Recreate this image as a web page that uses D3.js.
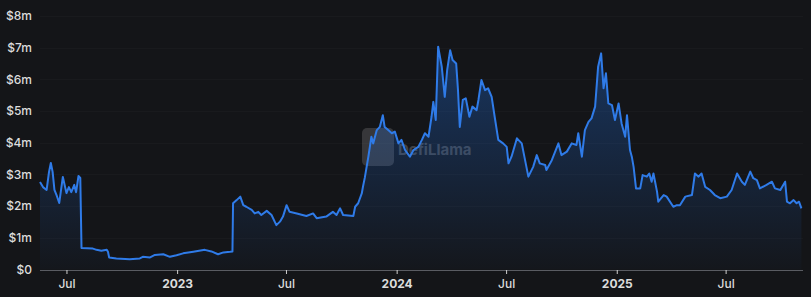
<!DOCTYPE html>
<html lang="en">
<head>
	<meta charset="UTF-8">
	<title>TVL chart</title>
	<script src="https://d3js.org/d3.v7.min.js"></script>
	<style>
		html, body { margin: 0; padding: 0; background: #141518; }
		svg { display: block; }
		text { font-family: Inter, "Noto Sans", sans-serif; }
	</style>
</head>
<body>
	<script type="text/javascript">

		var w = 811;
		var h = 297;

		// series (values in $m)
		var dates = [
			"2022-05-18","2022-05-23","2022-05-29","2022-06-02","2022-06-05","2022-06-08","2022-06-11","2022-06-15","2022-06-19","2022-06-22","2022-06-25",
			"2022-07-01","2022-07-05","2022-07-09","2022-07-14","2022-07-17","2022-07-21","2022-07-24","2022-07-26","2022-08-14","2022-08-20","2022-08-28",
			"2022-09-06","2022-09-08","2022-09-10","2022-09-22","2022-10-14","2022-10-31","2022-11-05","2022-11-17","2022-11-25","2022-12-09","2022-12-20","2022-12-31",
			"2023-01-11","2023-01-28","2023-02-16","2023-02-27","2023-03-10","2023-03-19","2023-03-30","2023-04-03","2023-04-04","2023-04-10","2023-04-16",
			"2023-04-21","2023-04-26","2023-05-05","2023-05-10","2023-05-16","2023-05-21","2023-05-30","2023-06-07","2023-06-15","2023-06-21","2023-06-26",
			"2023-07-02","2023-07-07","2023-07-19","2023-08-04","2023-08-15","2023-08-21","2023-09-06","2023-09-17","2023-09-23","2023-09-29","2023-10-04",
			"2023-10-21","2023-10-24","2023-10-29","2023-11-04","2023-11-06","2023-11-09","2023-11-15","2023-11-20","2023-11-23","2023-11-29","2023-12-04",
			"2023-12-09","2023-12-12","2023-12-18","2023-12-24","2023-12-29",
			"2024-01-04","2024-01-09","2024-01-15","2024-01-23","2024-01-29","2024-02-06","2024-02-12","2024-02-17","2024-02-23","2024-02-28",
			"2024-03-02","2024-03-06","2024-03-10","2024-03-16","2024-03-21","2024-03-25","2024-03-30","2024-04-03","2024-04-09","2024-04-12","2024-04-15",
			"2024-04-20","2024-04-25","2024-05-01","2024-05-06","2024-05-13","2024-05-16","2024-05-21","2024-05-27","2024-06-01","2024-06-07","2024-06-12",
			"2024-06-18","2024-06-26","2024-07-02","2024-07-05","2024-07-10","2024-07-19","2024-07-27","2024-08-07","2024-08-15","2024-08-21","2024-08-26",
			"2024-09-04","2024-09-06","2024-09-15","2024-09-26","2024-10-01","2024-10-10","2024-10-18","2024-10-26","2024-10-29","2024-11-04","2024-11-09",
			"2024-11-15","2024-11-20","2024-11-26","2024-12-01","2024-12-06","2024-12-10","2024-12-14","2024-12-18","2024-12-24","2024-12-29",
			"2025-01-04","2025-01-09","2025-01-15","2025-01-18","2025-01-23","2025-01-26","2025-01-29","2025-02-02","2025-02-09","2025-02-13","2025-02-20",
			"2025-02-24","2025-02-28","2025-03-03","2025-03-09","2025-03-11","2025-03-20","2025-03-25","2025-04-05","2025-04-11","2025-04-16","2025-04-25",
			"2025-05-06","2025-05-11","2025-05-17","2025-05-22","2025-05-28","2025-06-05","2025-06-13","2025-06-22","2025-07-03","2025-07-11","2025-07-20",
			"2025-07-28","2025-08-02","2025-08-11","2025-08-16","2025-08-22","2025-08-27","2025-09-07","2025-09-16","2025-09-21","2025-09-30","2025-10-08",
			"2025-10-11","2025-10-16","2025-10-22","2025-10-27","2025-10-31","2025-11-04"
		];
		var tvl = [
			2.76,2.60,2.51,3.08,3.36,3.08,2.51,2.32,2.10,2.51,2.92,
			2.41,2.60,2.44,2.67,2.44,2.95,2.89,0.68,0.66,0.62,0.59,
			0.62,0.56,0.38,0.35,0.32,0.35,0.40,0.38,0.46,0.48,0.40,0.45,
			0.51,0.56,0.62,0.57,0.48,0.54,0.56,0.57,2.09,2.19,2.30,
			2.03,1.98,1.88,1.77,1.82,1.72,1.85,1.72,1.40,1.51,1.67,
			2.03,1.82,1.77,1.69,1.77,1.62,1.67,1.82,1.72,1.93,1.72,
			1.69,1.98,2.09,2.40,2.61,2.89,3.56,4.19,3.98,4.40,4.50,
			4.87,4.50,4.40,4.30,4.35,
			3.98,4.09,3.77,3.56,3.77,3.87,4.09,4.30,4.19,4.82,
			5.29,4.72,7.03,6.40,5.45,6.29,6.92,6.61,6.50,5.66,4.50,
			5.35,5.40,4.82,5.14,5.03,5.35,5.98,5.66,5.72,5.45,4.82,
			4.09,3.98,3.87,3.35,3.56,4.14,3.98,2.93,3.24,3.61,3.35,
			3.30,3.14,3.45,3.98,3.61,3.72,3.98,3.93,4.30,3.56,4.40,
			4.66,4.77,5.14,6.40,6.82,5.72,6.19,5.24,5.19,4.72,
			5.24,4.61,4.19,4.87,3.77,3.56,3.24,2.56,2.56,2.98,2.93,
			3.03,2.77,3.03,2.45,2.14,2.35,2.30,1.98,2.03,2.03,2.30,
			2.35,3.03,2.93,3.03,2.61,2.51,2.35,2.25,2.30,2.51,3.03,
			2.77,2.67,3.09,2.88,2.82,2.56,2.67,2.77,2.56,2.51,2.77,
			2.14,2.09,2.19,2.09,2.14,1.93
		];

		var yTicks = [0, 1, 2, 3, 4, 5, 6, 7, 8];
		var yTickLabels = ["$0", "$1m", "$2m", "$3m", "$4m", "$5m", "$6m", "$7m", "$8m"];
		var xTicks = ["2022-07-01", "2023-01-01", "2023-07-01", "2024-01-01", "2024-07-01", "2025-01-01", "2025-07-01"];
		var xTickLabels = ["Jul", "2023", "Jul", "2024", "Jul", "2025", "Jul"];

		var parse = d3.utcParse("%Y-%m-%d");
		var data = dates.map(function(d, i){ return {date: parse(d), value: tvl[i]}; });

		var xScale = d3.scaleUtc()
			.domain([parse("2022-05-18"), parse("2025-11-05")])
			.range([40, 802]);
		var yScale = d3.scaleLinear()
			.domain([0, 8])
			.range([269.5, 16]);

		var svg = d3.select("body")
			.append("svg")
			.attr("width", w)
			.attr("height", h);

		svg.append("rect").attr("width", w).attr("height", h).attr("fill", "#141518");

		var defs = svg.append("defs");
		var grad = defs.append("linearGradient")
			.attr("id", "fade")
			.attr("gradientUnits", "userSpaceOnUse")
			.attr("x1", 0).attr("x2", 0)
			.attr("y1", yScale(8)).attr("y2", yScale(0));
		grad.append("stop").attr("offset", "0%").attr("stop-color", "#2172e5").attr("stop-opacity", 0.4);
		grad.append("stop").attr("offset", "100%").attr("stop-color", "#2172e5").attr("stop-opacity", 0.02);

		// faint grid
		svg.append("g")
			.selectAll("line")
			.data(yTicks.slice(1))
			.enter()
			.append("line")
			.attr("x1", 40).attr("x2", 803)
			.attr("y1", function(d){ return Math.round(yScale(d)) + 0.5; })
			.attr("y2", function(d){ return Math.round(yScale(d)) + 0.5; })
			.attr("stroke", "#ffffff")
			.attr("stroke-opacity", 0.022);

		// watermark
		var mark = svg.append("g").attr("opacity", 0.26);
		mark.append("rect")
			.attr("x", 362).attr("y", 128).attr("width", 32).attr("height", 38)
			.attr("rx", 5).attr("fill", "#9a9a9a");
		mark.append("text")
			.attr("x", 398).attr("y", 155)
			.attr("font-size", 15).attr("font-weight", 700)
			.attr("fill", "#c8c8c8")
			.text("DefiLlama");

		var area = d3.area()
			.x(function(d){ return xScale(d.date); })
			.y0(yScale(0))
			.y1(function(d){ return yScale(d.value); });
		var line = d3.line()
			.x(function(d){ return xScale(d.date); })
			.y(function(d){ return yScale(d.value); });

		svg.append("path").datum(data).attr("d", area).attr("fill", "url(#fade)");
		svg.append("path").datum(data).attr("d", line)
			.attr("fill", "none")
			.attr("stroke", "#2f7be8")
			.attr("stroke-width", 2)
			.attr("stroke-linejoin", "round");

		// y axis labels
		var yAxis = d3.axisLeft(yScale)
			.tickValues(yTicks)
			.tickSize(0)
			.tickPadding(0)
			.tickFormat(function(d, i){ return yTickLabels[i]; });
		var gy = svg.append("g").attr("transform", "translate(32,0)").call(yAxis);
		gy.select(".domain").remove();
		gy.selectAll("text")
			.attr("fill", "#dcdcdc")
			.attr("font-size", 12)
			.attr("font-weight", 500)
			.style("font-family", "Inter, 'Noto Sans', sans-serif");

		// x axis
		var xAxis = d3.axisBottom(xScale)
			.tickValues(xTicks.map(parse))
			.tickSize(4)
			.tickPadding(5)
			.tickFormat(function(d, i){ return xTickLabels[i]; });
		var gx = svg.append("g").attr("transform", "translate(0,270)").call(xAxis);
		gx.select(".domain").remove();
		gx.insert("line", ":first-child")
			.attr("x1", 40).attr("x2", 803)
			.attr("y1", 0.5).attr("y2", 0.5)
			.attr("stroke", "#5a5c62");
		gx.selectAll(".tick line").attr("stroke", "#d0d0d0");
		gx.selectAll("text")
			.attr("fill", "#dcdcdc")
			.attr("font-size", 12)
			.attr("font-weight", function(d, i){ return /^\d+$/.test(xTickLabels[i]) ? 700 : 500; })
			.style("font-family", "Inter, 'Noto Sans', sans-serif");

	</script>
</body>
</html>
